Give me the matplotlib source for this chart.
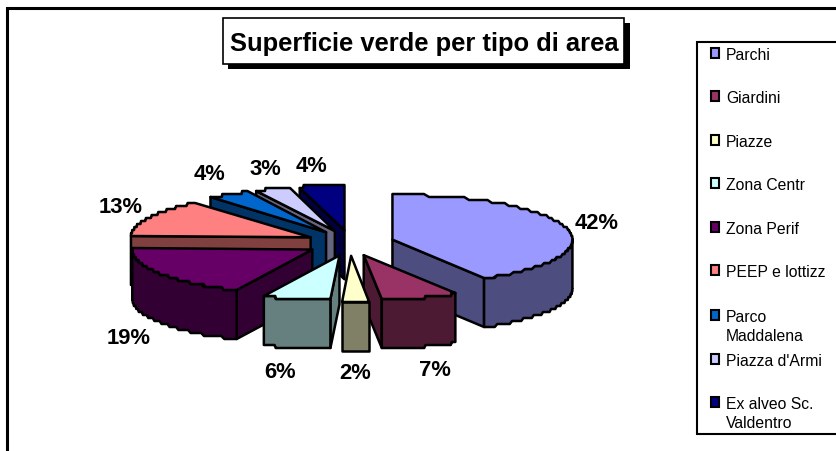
import numpy as np
import matplotlib
matplotlib.use('Agg')
import matplotlib.pyplot as plt
from matplotlib.patches import Polygon, Rectangle

categories = ['Parchi', 'Giardini', 'Piazze', 'Zona Centr', 'Zona Perif',
              'PEEP e lottizz', 'Parco\nMaddalena', "Piazza d'Armi", 'Ex alveo Sc.\nValdentro']
values = [41.5, 6.9, 2.4, 6.1, 19.0, 13.0, 3.9, 3.2, 4.0]
colors = ['#9999FF', '#993366', '#FFFFCC', '#CCFFFF', '#660066',
          '#FF8080', '#0066CC', '#CCCCFF', '#000080']
sides = ['#4D4D80', '#4D1A33', '#808066', '#668080', '#330033',
         '#804040', '#003366', '#666680', '#000040']
label_pos = [(597, 224), (435, 371), (355, 374), (280, 373), (129, 339),
             (121, 208), (210, 175), (265, 170), (312, 167)]
legend_y = [54, 97, 141, 184, 228, 271, 316, 360, 403]

W, H = 837, 452
cx, cy = 350, 244
rx, ry = 180, 45
ex, ey = 44, 12.8
depth = 49
lw = 1.8

plt.rcParams['font.family'] = ['Liberation Sans', 'DejaVu Sans']

fig = plt.figure(figsize=(W / 100, H / 100), dpi=100)
ax = fig.add_axes([0, 0, 1, 1])
ax.set_xlim(0, W)
ax.set_ylim(H, 0)
ax.axis('off')

# outer frame, runs off the right and bottom of the image
ax.add_patch(Rectangle((7, 9), W, H, fc='white', ec='black', lw=2.2, zorder=0))


def poly(pts, fc, z):
    ax.add_patch(Polygon(pts, closed=True, fc=fc, ec='black', lw=lw, joinstyle='round', zorder=z))


def draw_slice(a0, a1, top, side, z):
    mid = np.radians((a0 + a1) / 2)
    ox = cx + ex * np.sin(mid)
    oy = cy - ey * np.cos(mid)

    def pt(a):
        r = np.radians(a)
        # the original arcs are coarse, so snap y to a few pixels
        y = oy - ry * np.cos(r)
        return np.column_stack([ox + rx * np.sin(r), np.round(y / 3) * 3])

    # cut faces, only the ones that look at the viewer
    for a, vis in ((a0, np.sin(np.radians(a0)) < -1e-6), (a1, np.sin(np.radians(a1)) > 1e-6)):
        if vis:
            p = pt(np.array([a]))[0]
            poly([(ox, oy), p, (p[0], p[1] + depth), (ox, oy + depth)], side, z)

    # outer wall on the front half of the ellipse
    w0, w1 = max(a0, 90), min(a1, 270)
    if w1 > w0:
        arc = pt(np.linspace(w0, w1, 60))
        low = arc[::-1] + [0, depth]
        poly(np.vstack([arc, low]), side, z)

    arc = pt(np.linspace(a0, a1, 90))
    poly(np.vstack([[(ox, oy)], arc]), top, z)


edges = np.cumsum([0] + values) / sum(values) * 360
mids = (edges[:-1] + edges[1:]) / 2
order = np.argsort(cy - ey * np.cos(np.radians(mids)))
for z, i in enumerate(order):
    draw_slice(edges[i], edges[i + 1], colors[i], sides[i], 2 + z)

for v, (x, y) in zip(values, label_pos):
    ax.text(x, y, f'{v:.0f}%', ha='center', va='center', fontsize=15.8, fontweight='bold', zorder=30)

# title box with shadow
ax.add_patch(Rectangle((228, 24), 402, 46, fc='black', ec='black', lw=0, zorder=30))
ax.add_patch(Rectangle((223, 19), 401, 46, fc='white', ec='black', lw=1.2, zorder=31))
ax.text(424.5, 44, 'Superficie verde per tipo di area', ha='center', va='center',
        fontsize=18.4, fontweight='bold', zorder=32)

# legend box
ax.add_patch(Rectangle((697, 43), W, 392, fc='white', ec='black', lw=1.5, zorder=30))
for name, c, y in zip(categories, colors, legend_y):
    ax.add_patch(Rectangle((711, y - 5), 8, 10, fc=c, ec='black', lw=1.5, zorder=31))
    ax.text(726, y - 6, name, ha='left', va='top', fontsize=11.3, linespacing=1.35, zorder=31)

fig.savefig('out.png', dpi=100)
